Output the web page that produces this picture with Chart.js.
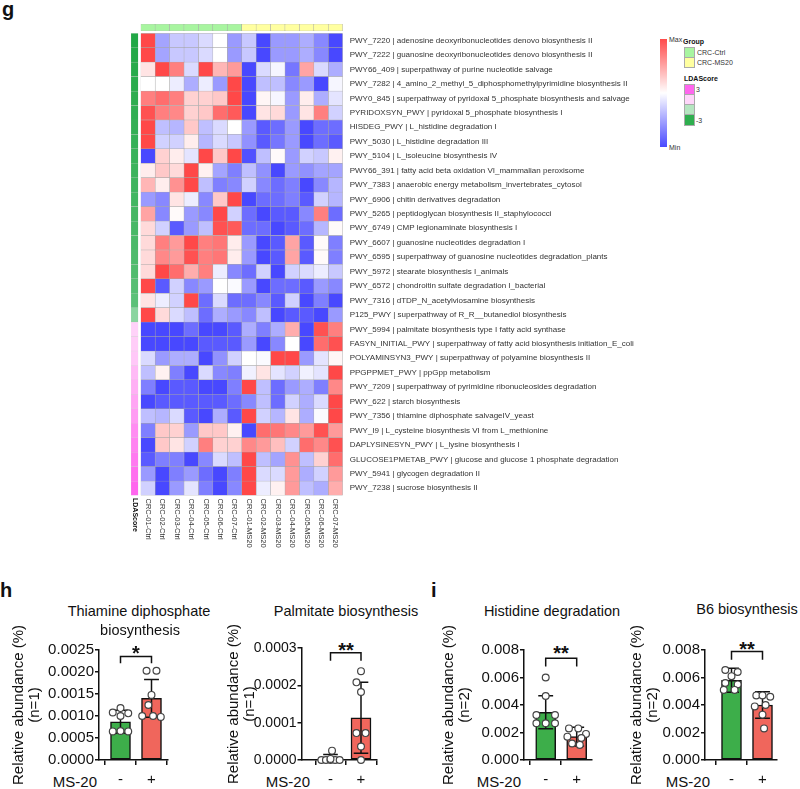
<!DOCTYPE html>
<html>
<head>
<meta charset="utf-8">
<script src="https://cdn.jsdelivr.net/npm/chart.js"></script>
<style>
	body { margin: 0; background: #fff; font-family: Arial, "Liberation Sans", sans-serif; color: #111; }
	#page { position: relative; width: 800px; height: 789px; overflow: hidden; }
	canvas { position: absolute; }
	.t { position: absolute; white-space: nowrap; line-height: 1; }
	.c { transform: translate(-50%, -50%); }
	.panel { font-weight: bold; font-size: 20px; }
	.lg { font-size: 7px; color: #333; }
</style>
</head>
<body>
<div id="page">
	<div class="t panel" style="left:2px; top:-1px;">g</div>
	<div class="t panel" style="left:0px; top:580px;">h</div>
	<div class="t panel" style="left:431px; top:580px;">i</div>

	<canvas id="groupChart" width="204" height="9" style="left:140px; top:23px;"></canvas>
	<canvas id="ldaChart" width="10" height="463" style="left:130px; top:33px;"></canvas>
	<canvas id="heatChart" width="530" height="540" style="left:125px; top:20px;"></canvas>
	<div class="t" style="left:134.5px; top:498px; font-size:7px; font-weight:bold; transform-origin:0 0; transform:rotate(90deg) translate(0,-50%);">LDAScore</div>

	<!-- heatmap legend -->
	<div style="position:absolute; left:660px; top:39px; width:7px; height:108px; background:linear-gradient(to bottom, #ff4a4a 0%, #ffffff 50%, #4a4aff 100%);"></div>
	<div class="t lg" style="left:669px; top:36px;">Max</div>
	<div class="t lg" style="left:669px; top:144px;">Min</div>
	<div class="t lg" style="left:683px; top:38px; font-weight:bold; color:#111;">Group</div>
	<div style="position:absolute; left:684px; top:47px; width:9px; height:9px; background:#a8f5a0; border:0.5px solid #aaa;"></div>
	<div style="position:absolute; left:684px; top:57px; width:9px; height:9px; background:#ffffa0; border:0.5px solid #aaa;"></div>
	<div class="t lg" style="left:697px; top:48.5px;">CRC-Ctrl</div>
	<div class="t lg" style="left:697px; top:59px;">CRC-MS20</div>
	<div class="t lg" style="left:684px; top:75px; font-weight:bold; color:#111;">LDAScore</div>
	<div style="position:absolute; left:684px; top:84px; width:9px; height:10px; background:#ff66ee; border:0.5px solid #aaa;"></div>
	<div style="position:absolute; left:684px; top:94px; width:9px; height:10px; background:#ffd6fa; border:0.5px solid #aaa;"></div>
	<div style="position:absolute; left:684px; top:104px; width:9px; height:10px; background:#b5e6c0; border:0.5px solid #aaa;"></div>
	<div style="position:absolute; left:684px; top:114px; width:9px; height:10px; background:#2eae4e; border:0.5px solid #aaa;"></div>
	<div class="t lg" style="left:696px; top:85.5px;">3</div>
	<div class="t lg" style="left:696px; top:116.5px;">-3</div>

	<!-- bar chart texts -->
	<div class="t c" style="left:139px; top:611px; font-size:14.5px;">Thiamine diphosphate</div>
	<div class="t c" style="left:140px; top:630px; font-size:14.5px;">biosynthesis</div>
	<div class="t c" style="left:346px; top:611px; font-size:14.5px;">Palmitate biosynthesis</div>
	<div class="t c" style="left:552px; top:611px; font-size:14.5px;">Histidine degradation</div>
	<div class="t c" style="left:747px; top:609px; font-size:14.5px;">B6 biosynthesis</div>

	<div class="t" style="right:703px; top:774px; font-size:15px;">MS-20</div>
	<div class="t" style="right:490px; top:774px; font-size:15px;">MS-20</div>
	<div class="t" style="right:279px; top:774px; font-size:15px;">MS-20</div>
	<div class="t" style="right:90px; top:774px; font-size:15px;">MS-20</div>

	<div class="t c" style="left:136px; top:653px; font-size:20px; font-weight:bold;">*</div>
	<div class="t c" style="left:346px; top:650px; font-size:20px; font-weight:bold;">**</div>
	<div class="t c" style="left:561px; top:653px; font-size:20px; font-weight:bold;">**</div>
	<div class="t c" style="left:747px; top:649px; font-size:20px; font-weight:bold;">**</div>

	<canvas id="thiamineChart" width="175" height="169" style="left:9px; top:620px;"></canvas>
	<canvas id="palmitateChart" width="165" height="169" style="left:224px; top:620px;"></canvas>
	<canvas id="histidineChart" width="165" height="169" style="left:439px; top:620px;"></canvas>
	<canvas id="b6Chart" width="165" height="169" style="left:627px; top:620px;"></canvas>
</div>

<script>
// ---- heatmap data ----
const sampleNames = ['CRC-01-Ctrl', 'CRC-02-Ctrl', 'CRC-03-Ctrl', 'CRC-04-Ctrl', 'CRC-05-Ctrl', 'CRC-06-Ctrl', 'CRC-07-Ctrl',
	'CRC-01-MS20', 'CRC-02-MS20', 'CRC-03-MS20', 'CRC-04-MS20', 'CRC-05-MS20', 'CRC-06-MS20', 'CRC-07-MS20'];
const sampleGroups = ['Ctrl', 'Ctrl', 'Ctrl', 'Ctrl', 'Ctrl', 'Ctrl', 'Ctrl', 'MS20', 'MS20', 'MS20', 'MS20', 'MS20', 'MS20', 'MS20'];

const pathwayLabels = [
	'PWY_7220 | adenosine deoxyribonucleotides denovo biosynthesis II',
	'PWY_7222 | guanosine deoxyribonucleotides denovo biosynthesis II',
	'PWY66_409 | superpathway of purine nucleotide salvage',
	'PWY_7282 | 4_amino_2_methyl_5_diphosphomethylpyrimidine biosynthesis II',
	'PWY0_845 | superpathway of pyridoxal 5_phosphate biosynthesis and salvage',
	'PYRIDOXSYN_PWY | pyridoxal 5_phosphate biosynthesis I',
	'HISDEG_PWY | L_histidine degradation I',
	'PWY_5030 | L_histidine degradation III',
	'PWY_5104 | L_isoleucine biosynthesis IV',
	'PWY66_391 | fatty acid beta oxidation VI_mammalian peroxisome',
	'PWY_7383 | anaerobic energy metabolism_invertebrates_cytosol',
	'PWY_6906 | chitin derivatives degradation',
	'PWY_5265 | peptidoglycan biosynthesis II_staphylococci',
	'PWY_6749 | CMP legionaminate biosynthesis I',
	'PWY_6607 | guanosine nucleotides degradation I',
	'PWY_6595 | superpathway of guanosine nucleotides degradation_plants',
	'PWY_5972 | stearate biosynthesis I_animals',
	'PWY_6572 | chondroitin sulfate degradation I_bacterial',
	'PWY_7316 | dTDP_N_acetylviosamine biosynthesis',
	'P125_PWY | superpathway of R_R__butanediol biosynthesis',
	'PWY_5994 | palmitate biosynthesis type I fatty acid synthase',
	'FASYN_INITIAL_PWY | superpathway of fatty acid biosynthesis initiation_E_coli',
	'POLYAMINSYN3_PWY | superpathway of polyamine biosynthesis II',
	'PPGPPMET_PWY | ppGpp metabolism',
	'PWY_7209 | superpathway of pyrimidine ribonucleosides degradation',
	'PWY_622 | starch biosynthesis',
	'PWY_7356 | thiamine diphosphate salvageIV_yeast',
	'PWY_I9 | L_cysteine biosynthesis VI from L_methionine',
	'DAPLYSINESYN_PWY | L_lysine biosynthesis I',
	'GLUCOSE1PMETAB_PWY | glucose and glucose 1 phosphate degradation',
	'PWY_5941 | glycogen degradation II',
	'PWY_7238 | sucrose biosynthesis II'
];

const ldaScores = [-3.0, -2.95, -2.9, -2.85, -2.8, -2.75, -2.7, -2.65, -2.6, -2.55, -2.5, -2.45, -2.4, -2.35, -2.3, -2.25, -2.2, -2.1, -2.0, -1.2,
	0.8, 0.9, 1.0, 1.3, 1.5, 1.7, 1.9, 2.2, 2.4, 2.6, 2.8, 3.0];

// scaled abundance, one row per pathway, one column per sample
const heatValues = [
	[2, -1, -0.6, -0.6, -0.4, 0, -1.1, -0.6, -2, -1.1, -1.1, -0.9, -1.3, -2],
	[2, -1, -0.6, -0.6, -0.4, 0, -1.1, -0.6, -2, -1.1, -1.1, -0.9, -1.3, -2],
	[0.3, 2, 1.4, -0.4, 2, 0.8, 1.1, -2, -0.4, -0.1, -1.5, 1.0, -0.4, -0.9],
	[0, 0, -0.2, -0.9, -0.2, -1.1, 2, -2, -0.7, -0.7, -1.3, -1.1, -2, -0.1],
	[1.4, 1.6, 1.4, 0.5, 0.5, 0.6, 2, -2, 0.1, -0.1, -1.1, 0.2, -0.9, -0.3],
	[1.9, 1.4, 1.3, 0.5, 0.6, 1.6, 1.8, -2, 0.3, 0.4, -1.1, 0.3, 1.4, -0.5],
	[2, -0.7, -0.8, 0.6, -0.7, -0.4, 0, -1.1, -1.8, -1.6, -1.1, -2, -1.6, -1.6],
	[2, -0.5, -0.5, 0.2, -0.8, -0.4, -0.6, -1.2, -1.8, -1.5, -1.1, -2, -1.6, -1.8],
	[-2, 0.5, 0.2, -0.3, 2, 0.6, 2, -1.9, -0.7, 0.05, -1.1, -0.5, -0.6, 0.15],
	[0.2, 0.6, 0.4, 2, 0.15, -1, -1.4, -0.7, -1.2, -2, -1.1, -1.2, -1, -1],
	[0.8, 0.2, 1.2, 2, -0.7, -1.4, -1.3, -0.5, -1.3, -1.6, -1.4, -2, -1.3, -0.8],
	[-1.1, -1.3, 0.3, -0.2, -1.3, 0.6, 2, -2, -1.6, -1.6, -1.4, -1.8, -0.5, -0.8],
	[1.0, -1.3, 0.05, -1.1, -1.3, 2, -0.5, -1.6, -2, -1.8, -1.8, -1.3, 1.4, -1.6],
	[0.4, -0.5, -1.8, -1.1, -0.7, 1.9, 1.8, -1.6, -1.6, -2, -1.8, -1.6, -0.8, 0.05],
	[0.4, 1.4, 1.1, 2, 1.4, 1.5, 0.2, -1.1, -2, -1.8, 1.0, -1.8, 0.05, -1.4],
	[0.4, 1.3, 1.1, 1.9, 1.4, 1.5, 0.2, -1.1, -2, -1.8, 1.0, -1.8, 0.05, -1.4],
	[0.4, 2, 1.6, 0.9, 1.4, -0.2, -1.3, -1.6, -0.5, -2, -0.5, -0.4, -0.2, -0.6],
	[2, -1.8, -0.5, -1.3, -1.1, 0, -0.05, -1.1, -2, -1.6, -1.6, -1.8, -1.1, -1.3],
	[0.3, -0.2, -0.5, 2, -1.6, -0.4, -1.6, -1.6, -1.3, -1.8, -0.5, -2, -1.4, -2],
	[2, 0.4, -0.4, -0.7, -1.6, -0.9, -1.1, -1.3, -0.7, -2, -1.8, -1.8, -2, -1.1],
	[-2, -2, -2, -1.6, -2, -2, -1.8, -0.9, -1.4, -0.9, 0.9, -2, 1.9, 1.4],
	[-2, -2, -2, -2, -1.8, -1.8, -1.8, -1.1, -2, -1.3, 0, -2, 1.6, 1.9],
	[-0.4, -1.1, -0.9, -0.9, -2, -1.2, -0.5, 0, -0.05, 2, 2, -1.1, -0.3, 0.1],
	[-0.7, 0.15, -1.4, -2, -0.4, -1.3, -1.4, -0.15, 0.3, -0.3, -0.5, -0.15, -0.3, 2],
	[-1.4, -2, -1.8, -1.8, -2, -2, -1.4, 2, -0.7, -1.6, -1.1, -0.9, -1.4, 1.3],
	[-2, -1.8, -1.8, -1.8, -1.8, -1.8, -1.6, -1.3, -0.7, -1.6, -0.5, -0.9, -0.4, 2],
	[-0.7, -0.8, -0.4, -1.8, -2, -0.9, -1.8, 2, -0.5, -0.8, 0.3, -0.9, -0.05, 2],
	[-1.4, 0.6, 0.5, -1.1, 0.6, 0.6, 0.15, -2, 1.6, 1.5, 1.3, 1.1, 1.9, 1.1],
	[-2, 0.6, 0.3, -0.5, 1.4, 0.5, 0.5, 1.3, 1.1, 0.7, -0.5, 1.6, 1.3, 1.9],
	[-1.8, -1.4, -1.4, -2, -1.3, -0.4, -0.7, 2, -0.7, -1.0, 1.2, -0.7, 0.5, 1.6],
	[-1.1, -2, -1.4, -1.1, -1.6, -2, -1.4, 2, -0.4, -0.4, 1.1, -0.9, -0.5, 1.1],
	[-0.5, -2, -1.1, -0.3, -1.4, -2, -1.3, 2, -0.2, 0.15, 1.1, -0.7, -0.9, 0.9]
];

// ---- bar chart data (relative abundance, %) ----
const thiamineMean = [0.00087, 0.0014];
const thiamineSd = [0.00026, 0.00043];
const thiamineCtrl = [0.00108, 0.00118, 0.00106, 0.00100, 0.00065, 0.00066, 0.00065];
const thiamineMs20 = [0.00203, 0.00203, 0.00148, 0.00125, 0.00100, 0.00098, 0.00100];

const palmitateMean = [0.000006, 0.000113];
const palmitateSd = [0.000009, 0.000095];
const palmitateCtrl = [0.0, 0.0, 0.0, 0.0, 0.0, 0.000025, 0.000003];
const palmitateMs20 = [0.000238, 0.000208, 0.000182, 0.000072, 0.000072, 0.000036, 0.0];

const histidineMean = [0.00347, 0.0017];
const histidineSd = [0.0012, 0.00068];
const histidineCtrl = [0.0060, 0.00465, 0.00327, 0.00327, 0.00267, 0.00267, 0.00267];
const histidineMs20 = [0.0023, 0.0023, 0.0019, 0.0017, 0.0016, 0.0012, 0.0011];

const b6Mean = [0.0058, 0.0040];
const b6Sd = [0.00087, 0.00097];
const b6Ctrl = [0.00655, 0.0064, 0.0061, 0.0056, 0.0055, 0.0051, 0.0051];
const b6Ms20 = [0.0047, 0.0047, 0.0046, 0.0040, 0.0039, 0.0033, 0.0023];

// ---- styling ----
const FONT = 'Arial, "Liberation Sans", sans-serif';
const GREEN = '#3dae4a';
const RED = '#f0665c';
const INK = '#111';
Chart.defaults.font.family = FONT;

function heatColor(v) {
	const t = Math.min(Math.abs(v) / 2, 1);
	const k = Math.round(255 - t * 183);
	return v >= 0 ? `rgb(255,${k},${k})` : `rgb(${k},${k},255)`;
}

function ldaColor(s) {
	if (s >= 0) {
		const t = Math.max(0, Math.min((s - 0.5) / 2.5, 1));
		return `rgb(255,${Math.round(225 - 123 * t)},${Math.round(250 - 12 * t)})`;
	}
	const t = Math.max(0, Math.min((-s - 0.5) / 2.5, 1));
	return `rgb(${Math.round(180 - 146 * t)},${Math.round(230 - 62 * t)},${Math.round(195 - 125 * t)})`;
}

const noChrome = { legend: { display: false }, tooltip: { enabled: false } };

// column labels under the heatmap, read top to bottom
const columnLabels = {
	id: 'columnLabels',
	afterDraw(chart) {
		const { ctx, chartArea, scales } = chart;
		ctx.save();
		ctx.font = '7.5px ' + FONT;
		ctx.fillStyle = '#333';
		ctx.textBaseline = 'middle';
		sampleNames.forEach((name, i) => {
			ctx.save();
			ctx.translate(scales.x.getPixelForValue(i + 0.5), chartArea.bottom + 3);
			ctx.rotate(Math.PI / 2);
			ctx.fillText(name, 0, 0);
			ctx.restore();
		});
		ctx.restore();
	}
};

window.addEventListener('load', function() {
	// Heatmap: one stacked horizontal bar per sample column
	const heatCanvas = document.getElementById('heatChart');
	new Chart(heatCanvas, {
		type: 'bar',
		data: {
			labels: pathwayLabels,
			datasets: sampleNames.map((name, c) => ({
				label: name,
				data: pathwayLabels.map(() => 1),
				backgroundColor: heatValues.map(row => heatColor(row[c])),
				borderColor: '#a6a6a6',
				borderWidth: 0.5,
				borderSkipped: false,
				barPercentage: 1,
				categoryPercentage: 1
			}))
		},
		options: {
			indexAxis: 'y',
			responsive: false,
			animation: false,
			layout: { padding: { left: 15.7, top: 13.3, right: 0, bottom: 64.5 } },
			plugins: noChrome,
			scales: {
				x: { stacked: true, min: 0, max: 14, display: false },
				y: {
					stacked: true,
					position: 'right',
					grid: { display: false, drawTicks: false },
					border: { display: false },
					ticks: { font: { size: 8 }, color: '#333', padding: 7, autoSkip: false },
					// grid right edge sits at x = 342.7 on the page
					afterFit: s => { s.width = heatCanvas.width - (342.7 - 125); }
				}
			}
		},
		plugins: [columnLabels]
	});

	// Group strip above the heatmap
	new Chart(document.getElementById('groupChart'), {
		type: 'bar',
		data: {
			labels: sampleNames,
			datasets: [{
				data: sampleGroups.map(() => 1),
				backgroundColor: sampleGroups.map(g => g === 'Ctrl' ? '#a8f5a0' : '#ffffa0'),
				borderColor: '#a6a6a6',
				borderWidth: 0.5,
				borderSkipped: false,
				barPercentage: 1,
				categoryPercentage: 1
			}]
		},
		options: {
			responsive: false,
			animation: false,
			layout: { padding: { left: 0.7, right: 1.3, top: 1, bottom: 1 } },
			plugins: noChrome,
			scales: { x: { display: false }, y: { display: false, min: 0, max: 1 } }
		}
	});

	// LDA score strip left of the heatmap
	new Chart(document.getElementById('ldaChart'), {
		type: 'bar',
		data: {
			labels: pathwayLabels,
			datasets: [{
				data: ldaScores.map(() => 1),
				backgroundColor: ldaScores.map(ldaColor),
				borderColor: 'rgba(200,200,200,0.6)',
				borderWidth: 0.4,
				borderSkipped: false,
				barPercentage: 1,
				categoryPercentage: 1
			}]
		},
		options: {
			indexAxis: 'y',
			responsive: false,
			animation: false,
			layout: { padding: { left: 1, right: 1.7, top: 0.3, bottom: 0.5 } },
			plugins: noChrome,
			scales: { x: { display: false, min: 0, max: 1 }, y: { display: false } }
		}
	});

	// Bar charts with error bars and individual points
	barChart('thiamineChart', {
		mean: thiamineMean, sd: thiamineSd, dots: [thiamineCtrl, thiamineMs20],
		jitter: [[-0.25, 0, 0.25, 0, -0.25, 0, 0.25], [-0.16, 0.16, 0, -0.1, -0.3, 0.3, 0.05]],
		max: 0.0025, step: 0.0005, dec: 4, n: '(n=1)', bracket: [0.0022, 0.00235], tickSize: 15,
		axisX: 99, c0: 120.5, pitch: 31, right: 168, top: 650
	});
	barChart('palmitateChart', {
		mean: palmitateMean, sd: palmitateSd, dots: [palmitateCtrl, palmitateMs20],
		jitter: [[-0.3, -0.15, 0, 0.15, 0.3, 0.05, 0], [0, -0.15, 0, -0.15, 0.15, 0, 0]],
		max: 0.0003, step: 0.0001, dec: 4, n: '(n=1)', bracket: [0.000266, 0.000287], tickSize: 14,
		axisX: 301.5, c0: 330.5, pitch: 30.5, right: 377, top: 648
	});
	barChart('histidineChart', {
		mean: histidineMean, sd: histidineSd, dots: [histidineCtrl, histidineMs20],
		jitter: [[0, 0, -0.3, 0.3, -0.3, 0, 0.3], [-0.25, 0.05, 0.3, -0.3, 0.15, -0.15, 0.1]],
		max: 0.008, step: 0.002, dec: 3, n: '(n=2)', bracket: [0.0068, 0.0074], tickSize: 15,
		axisX: 524, c0: 545.7, pitch: 31, right: 592, top: 650
	});
	barChart('b6Chart', {
		mean: b6Mean, sd: b6Sd, dots: [b6Ctrl, b6Ms20],
		jitter: [[-0.2, 0.2, 0, -0.2, 0.2, -0.25, 0.1], [-0.2, 0, 0.25, 0.1, -0.25, 0, 0.05]],
		max: 0.008, step: 0.002, dec: 3, n: '(n=2)', bracket: [0.0073, 0.0079], tickSize: 15,
		axisX: 705, c0: 731.5, pitch: 31, right: 777, top: 650
	});
});

function barChart(id, o) {
	const canvas = document.getElementById(id);
	const left = parseFloat(canvas.style.left);
	const top = parseFloat(canvas.style.top);
	const CAP = 0.24;

	const datasets = [{
		type: 'bar',
		data: o.mean.map((m, i) => ({ x: i, y: m })),
		backgroundColor: [GREEN, RED],
		borderColor: INK,
		borderWidth: 1.5,
		borderSkipped: false,
		barThickness: 20,
		order: 3
	}];

	// error bars, mean +/- SD
	o.mean.forEach((m, i) => {
		const lo = Math.max(m - o.sd[i], 0), hi = m + o.sd[i];
		datasets.push({
			type: 'line',
			data: [
				{ x: i - CAP, y: hi }, { x: i + CAP, y: hi }, { x: i, y: null },
				{ x: i, y: hi }, { x: i, y: lo }, { x: i + 0.01, y: null },
				{ x: i - CAP, y: lo }, { x: i + CAP, y: lo }
			],
			borderColor: INK, borderWidth: 1.5, pointRadius: 0, spanGaps: false, clip: false, order: 2
		});
	});

	// individual samples
	o.dots.forEach((vals, g) => {
		datasets.push({
			type: 'line',
			showLine: false,
			data: vals.map((v, k) => ({ x: g + o.jitter[g][k], y: v })),
			pointRadius: 3.4,
			pointBackgroundColor: '#fff',
			pointBorderColor: '#444',
			pointBorderWidth: 1.2,
			clip: false,
			order: 1
		});
	});

	// significance bracket
	datasets.push({
		type: 'line',
		data: [{ x: 0, y: o.bracket[0] }, { x: 0, y: o.bracket[1] }, { x: 1, y: o.bracket[1] }, { x: 1, y: o.bracket[0] }],
		borderColor: INK, borderWidth: 1.5, pointRadius: 0, clip: false, order: 1
	});

	new Chart(canvas, {
		type: 'bar',
		data: { datasets },
		options: {
			responsive: false,
			animation: false,
			layout: { padding: { left: 0, top: o.top - top, right: left + canvas.width - o.right, bottom: 0 } },
			plugins: noChrome,
			scales: {
				x: {
					type: 'linear',
					offset: false,
					min: -(o.c0 - o.axisX) / o.pitch,
					max: 1 + (o.right - o.c0 - o.pitch) / o.pitch,
					border: { color: INK, width: 1.5 },
					grid: { drawOnChartArea: false, color: INK, lineWidth: 1.5, tickLength: 5 },
					ticks: { callback: v => v === 0 ? '-' : '+', font: { size: 15 }, color: INK, padding: 6, maxRotation: 0 },
					afterBuildTicks: s => { s.ticks = [{ value: 0 }, { value: 1 }]; },
					afterFit: s => { s.height = 789 - 760; }
				},
				y: {
					min: 0,
					max: o.max,
					border: { color: INK, width: 1.5 },
					grid: { drawOnChartArea: false, color: INK, lineWidth: 1.5, tickLength: 4 },
					ticks: { stepSize: o.step, callback: v => v.toFixed(o.dec), font: { size: o.tickSize }, color: INK, padding: 1 },
					title: { display: true, text: ['Relative abundance (%)', o.n], font: { size: 15, lineHeight: 1.05 }, color: INK, padding: { top: 2, bottom: 0 } },
					afterFit: s => { s.width = o.axisX - left; }
				}
			}
		}
	});
}
</script>
</body>
</html>
